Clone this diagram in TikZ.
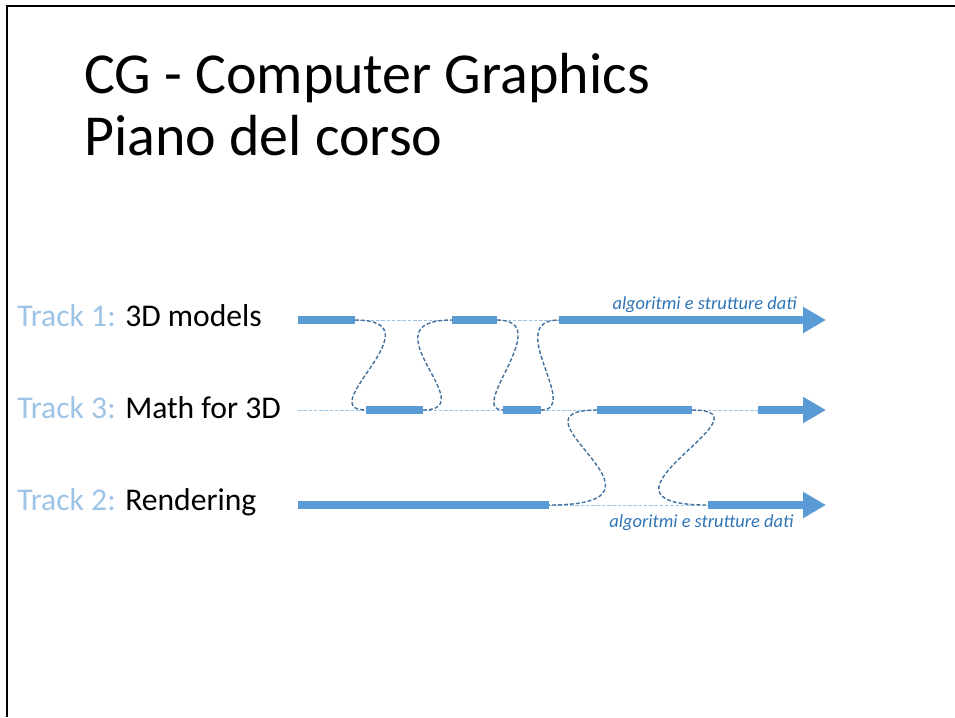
\documentclass[tikz,border=0pt]{standalone}
\usepackage{fontspec}
\setmainfont{Carlito}
\usetikzlibrary{arrows.meta,positioning,calc}
\definecolor{barblue}{HTML}{5B9BD5}
\definecolor{lightblue}{HTML}{9DC3E6}
\definecolor{darkblue}{HTML}{41719C}
\definecolor{textblue}{HTML}{2E75B6}

\begin{document}
\begin{tikzpicture}[x=0.02cm,y=-0.02cm,
  bar/.style={barblue,line width=4pt},
  arrowbar/.style={bar,-{Triangle[length=13pt,width=14pt]}},
  guide/.style={lightblue,line width=0.5pt,dash pattern=on 2pt off 1pt},
  jump/.style={darkblue,line width=0.8pt,dash pattern=on 2.2pt off 1.2pt},
  lbl/.style={anchor=base west,inner sep=0pt,font=\fontsize{18}{22}\selectfont},
  note/.style={anchor=base east,inner sep=0pt,text=textblue,font=\fontsize{10.5}{12}\selectfont\itshape}]
\useasboundingbox (0,0) rectangle (955,717);
\draw[line width=1.2pt] (7,717) -- (7,6) -- (955,6);
% title
\node[anchor=base west,inner sep=0pt,font=\fontsize{33}{36}\selectfont] (title) at (84,93) {CG - Computer Graphics};
\node[anchor=base west,inner sep=0pt,font=\fontsize{33}{36}\selectfont] (plan) at (84,155) {Piano del corso};
% track labels
\node[lbl] (track1) at (17,326) {\textcolor{lightblue}{Track 1:} 3D models};
\node[lbl] (track3) at (17,418) {\textcolor{lightblue}{Track 3:} Math for 3D};
\node[lbl] (track2) at (17,510) {\textcolor{lightblue}{Track 2:} Rendering};
% track 1
\coordinate (t1a) at (298,320); \coordinate (t1b) at (355,320);
\coordinate (t1c) at (452,320); \coordinate (t1d) at (497,320);
\coordinate (t1e) at (559,320); \coordinate (t1f) at (826,320);
% track 3
\coordinate (t3a) at (298,410); \coordinate (t3b) at (366,410);
\coordinate (t3c) at (423,410); \coordinate (t3d) at (503,410);
\coordinate (t3e) at (541,410); \coordinate (t3f) at (597,410);
\coordinate (t3g) at (692,410); \coordinate (t3h) at (758,410);
\coordinate (t3i) at (826,410);
% track 2
\coordinate (t2a) at (298,505); \coordinate (t2b) at (549,505);
\coordinate (t2c) at (708,505); \coordinate (t2d) at (826,505);
% thin guides
\draw[guide] (t1b) -- (t1c); \draw[guide] (t1d) -- (t1e);
\draw[guide] (t3a) -- (t3b); \draw[guide] (t3c) -- (t3d);
\draw[guide] (t3e) -- (t3f); \draw[guide] (t3g) -- (t3h);
\draw[guide] (t2b) -- (t2c);
% bars
\draw[bar] (t1a) -- (t1b); \draw[bar] (t1c) -- (t1d);
\draw[arrowbar] (t1e) -- (t1f) node[note,pos=0.903,yshift=6.2pt] (algo1) {algoritmi e strutture dati};
\draw[bar] (t3b) -- (t3c); \draw[bar] (t3d) -- (t3e); \draw[bar] (t3f) -- (t3g);
\draw[arrowbar] (t3h) -- (t3i);
\draw[bar] (t2a) -- (t2b);
\draw[arrowbar] (t2c) -- (t2d) node[note,pos=0.754,yshift=-13pt] (algo2) {algoritmi e strutture dati};
% jumps between tracks
\draw[jump] (t1b) .. controls +(86,0) and +(-55,0) .. (t3b);
\draw[jump] (t3c) .. controls +(62,0) and +(-90,0) .. (t1c);
\draw[jump] (t1d) .. controls +(60,0) and +(-37,0) .. (t3d);
\draw[jump] (t3e) .. controls +(41,0) and +(-57,0) .. (t1e);
\draw[jump] (t3f) .. controls +(-99,0) and +(147,0) .. (t2b);
\draw[jump] (t3g) .. controls +(88,0) and +(-140,0) .. (t2c);
\end{tikzpicture}
\end{document}
